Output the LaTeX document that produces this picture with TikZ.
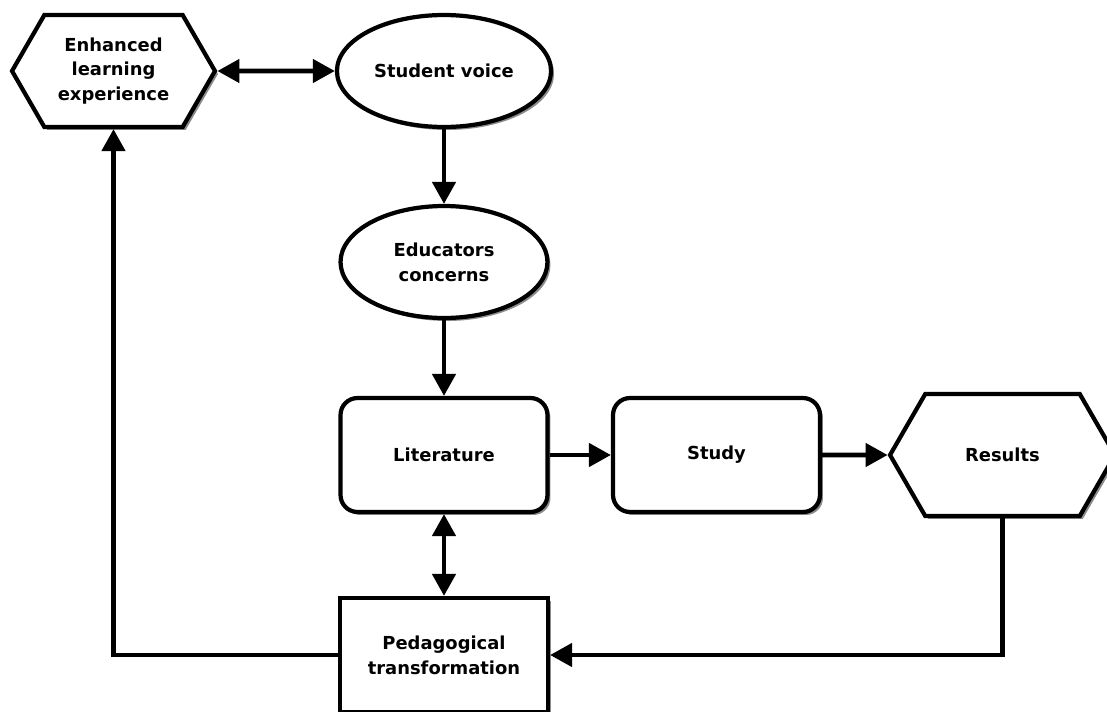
\documentclass[tikz,border=0pt]{standalone}
\usepackage{fontspec}
\setmainfont{DejaVu Sans}
\usetikzlibrary{shapes.geometric,shapes.symbols,arrows.meta,shadows}

\begin{document}
\begin{tikzpicture}[x=0.02cm,y=-0.02cm,
	box/.style={draw,line width=2.4pt,fill=white,align=center,
		font=\bfseries\fontsize{10.2}{14.2}\selectfont,
		drop shadow={shadow xshift=.06cm,shadow yshift=-.06cm,fill=black,opacity=.45}},
	hexbox/.style={box,signal,signal to=west and east,signal pointer angle=120},
	oval/.style={box,ellipse,minimum width=4.14cm,minimum height=2.24cm},
	roundbox/.style={box,rounded corners=0.34cm,minimum width=4.14cm,minimum height=2.28cm},
	conn/.style={line width=2.6pt,-{Triangle[length=0.44cm,width=0.46cm]}},
	dconn/.style={line width=2.6pt,{Triangle[length=0.44cm,width=0.46cm]}-{Triangle[length=0.44cm,width=0.46cm]}}]
\useasboundingbox (0,0) rectangle (1107,711);
% shapes
\node (enh) [hexbox,minimum width=4.06cm,minimum height=2.24cm] at (113.5,71) {Enhanced\\learning\\experience};
\node (stu) [oval] at (444,71) {Student voice};
\node (edu) [oval] at (444,262) {Educators\\concerns};
\node (lit) [roundbox] at (444,455) {Literature};
\node (stdy) [roundbox] at (716.5,455) {Study};
\node (res) [hexbox,minimum width=4.5cm,minimum height=2.44cm] at (1002.5,455) {Results};
\node (ped) [box,minimum width=4.16cm,minimum height=2.28cm] at (444,655) {Pedagogical\\transformation};
% connectors
\draw [dconn] (enh) -- (stu);
\draw [conn] (stu) -- (edu);
\draw [conn] (edu) -- (lit);
\draw [conn] (lit) -- (stdy);
\draw [conn] (stdy) -- (res);
\draw [dconn] (lit) -- (ped);
\draw [conn] (res.south) |- (ped.east);
\draw [conn] (ped.west) -| (enh.south);
\end{tikzpicture}
\end{document}
